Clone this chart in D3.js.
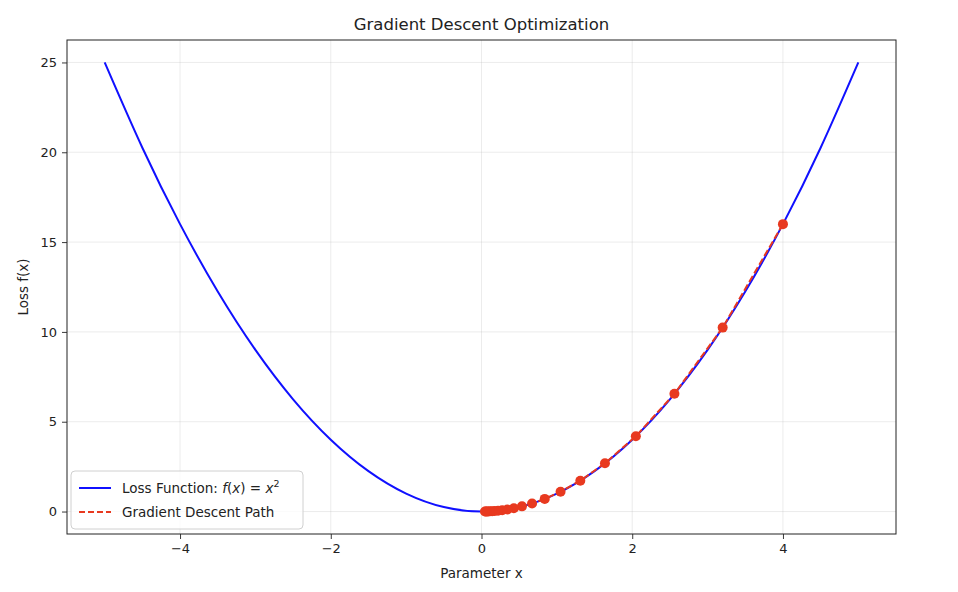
<!DOCTYPE html>
<html>
<head>
<meta charset="utf-8">
<script src="https://cdn.jsdelivr.net/npm/d3@7"></script>
<style>
  body { margin: 0; background: #fff; }
  text { font-family: "DejaVu Sans", sans-serif; fill: #222; }
</style>
</head>
<body>
<div id="chart"></div>
<script>
const WIDTH = 958;
const HEIGHT = 592;

// loss curve f(x) = x^2, sampled
const curveX = [-5, -4.5, -4, -3.5, -3, -2.5, -2, -1.5, -1, -0.5, 0, 0.5, 1, 1.5, 2, 2.5, 3, 3.5, 4, 4.5, 5];
const curveY = [25, 20.25, 16, 12.25, 9, 6.25, 4, 2.25, 1, 0.25, 0, 0.25, 1, 2.25, 4, 6.25, 9, 12.25, 16, 20.25, 25];

// gradient descent iterates
const pathX = [4, 3.2, 2.56, 2.048, 1.638, 1.311, 1.049, 0.839, 0.671, 0.537, 0.429, 0.344, 0.275, 0.22, 0.176, 0.141, 0.113, 0.09, 0.072, 0.058, 0.046];
const pathY = [16, 10.24, 6.554, 4.194, 2.684, 1.718, 1.1, 0.704, 0.45, 0.288, 0.184, 0.118, 0.076, 0.048, 0.031, 0.02, 0.013, 0.008, 0.005, 0.003, 0.002];

const xTicks = [-4, -2, 0, 2, 4];
const yTicks = [0, 5, 10, 15, 20, 25];

const MARGIN = { TOP: 40, BOTTOM: 58, LEFT: 67, RIGHT: 62 };
const widthSVG = WIDTH - MARGIN.LEFT - MARGIN.RIGHT;
const heightSVG = HEIGHT - MARGIN.TOP - MARGIN.BOTTOM;

const BLUE = "#1010ff";
const RED = "#e8391f";

const svg = d3.select("#chart")
    .append("svg")
    .attr("width", WIDTH)
    .attr("height", HEIGHT);

const container = svg.append("g")
    .attr("transform", `translate(${MARGIN.LEFT}, ${MARGIN.TOP})`);

const x = d3.scaleLinear().domain([-5.5, 5.5]).range([0, widthSVG]);
const y = d3.scaleLinear().domain([-1.25, 26.25]).range([heightSVG, 0]);

const fmt = d => (d < 0 ? "\u2212" + Math.abs(d) : d);

// grid
container.append("g")
    .selectAll("line")
    .data(xTicks)
    .enter()
    .append("line")
    .attr("x1", d => x(d)).attr("x2", d => x(d))
    .attr("y1", 0).attr("y2", heightSVG)
    .attr("stroke", "#b0b0b0").attr("stroke-opacity", 0.3).attr("stroke-width", 0.8);

container.append("g")
    .selectAll("line")
    .data(yTicks)
    .enter()
    .append("line")
    .attr("x1", 0).attr("x2", widthSVG)
    .attr("y1", d => y(d)).attr("y2", d => y(d))
    .attr("stroke", "#b0b0b0").attr("stroke-opacity", 0.3).attr("stroke-width", 0.8);

// axes
const xAxis = container.append("g")
    .attr("transform", `translate(0, ${heightSVG})`)
    .call(d3.axisBottom(x).tickValues(xTicks).tickFormat(fmt).tickSizeOuter(0).tickSize(5).tickPadding(5));
const yAxis = container.append("g")
    .call(d3.axisLeft(y).tickValues(yTicks).tickFormat(fmt).tickSizeOuter(0).tickSize(5).tickPadding(5));

[xAxis, yAxis].forEach(a => {
    a.select(".domain").remove();
    a.selectAll("line").attr("stroke", "#222").attr("stroke-width", 0.9);
    a.selectAll("text").style("font-size", "13px").style("fill", "#222");
});

// loss curve
const curveData = curveX.map((d, i) => ({ x: d, y: curveY[i] }));
container.append("path")
    .datum(curveData)
    .attr("fill", "none")
    .attr("stroke", BLUE)
    .attr("stroke-width", 2)
    .attr("d", d3.line().x(d => x(d.x)).y(d => y(d.y)).curve(d3.curveNatural));

// descent path
const pathData = pathX.map((d, i) => ({ x: d, y: pathY[i] }));
container.append("path")
    .datum(pathData)
    .attr("fill", "none")
    .attr("stroke", RED)
    .attr("stroke-width", 2)
    .attr("stroke-dasharray", "7,3")
    .attr("d", d3.line().x(d => x(d.x)).y(d => y(d.y)));

container.append("g")
    .selectAll("circle")
    .data(pathData)
    .enter()
    .append("circle")
    .attr("cx", d => x(d.x))
    .attr("cy", d => y(d.y))
    .attr("r", 5)
    .attr("fill", RED);

// frame
container.append("rect")
    .attr("width", widthSVG).attr("height", heightSVG)
    .attr("fill", "none").attr("stroke", "#222").attr("stroke-width", 1);

// legend
const legend = container.append("g").attr("transform", "translate(4, 431)");
legend.append("rect")
    .attr("width", 232).attr("height", 58).attr("rx", 4)
    .attr("fill", "#fff").attr("fill-opacity", 0.8)
    .attr("stroke", "#d0d0d0").attr("stroke-width", 1);

const items = [
    { label: "Loss Function: ", math: true, color: BLUE, dash: null },
    { label: "Gradient Descent Path", math: false, color: RED, dash: "6,3" }
];
items.forEach((it, i) => {
    const yy = 17 + i * 24;
    legend.append("line")
        .attr("x1", 8).attr("x2", 40).attr("y1", yy).attr("y2", yy)
        .attr("stroke", it.color).attr("stroke-width", 2)
        .attr("stroke-dasharray", it.dash);
    const t = legend.append("text")
        .attr("x", 51).attr("y", yy + 5)
        .style("font-size", "13.5px")
        .text(it.label);
    if (it.math) {
        t.append("tspan").style("font-style", "italic").text("f");
        t.append("tspan").text("(");
        t.append("tspan").style("font-style", "italic").text("x");
        t.append("tspan").text(") = ");
        t.append("tspan").style("font-style", "italic").text("x");
        t.append("tspan").attr("dy", -6).style("font-size", "9.5px").text("2");
    }
});

// titles
svg.append("text")
    .attr("x", MARGIN.LEFT + widthSVG / 2).attr("y", 30)
    .attr("text-anchor", "middle")
    .style("font-size", "16.5px")
    .text("Gradient Descent Optimization");

svg.append("text")
    .attr("x", MARGIN.LEFT + widthSVG / 2).attr("y", 578)
    .attr("text-anchor", "middle")
    .style("font-size", "13.5px")
    .text("Parameter x");

svg.append("text")
    .attr("transform", `translate(28, ${MARGIN.TOP + heightSVG / 2}) rotate(-90)`)
    .attr("text-anchor", "middle")
    .style("font-size", "13.5px")
    .text("Loss f(x)");
</script>
</body>
</html>
